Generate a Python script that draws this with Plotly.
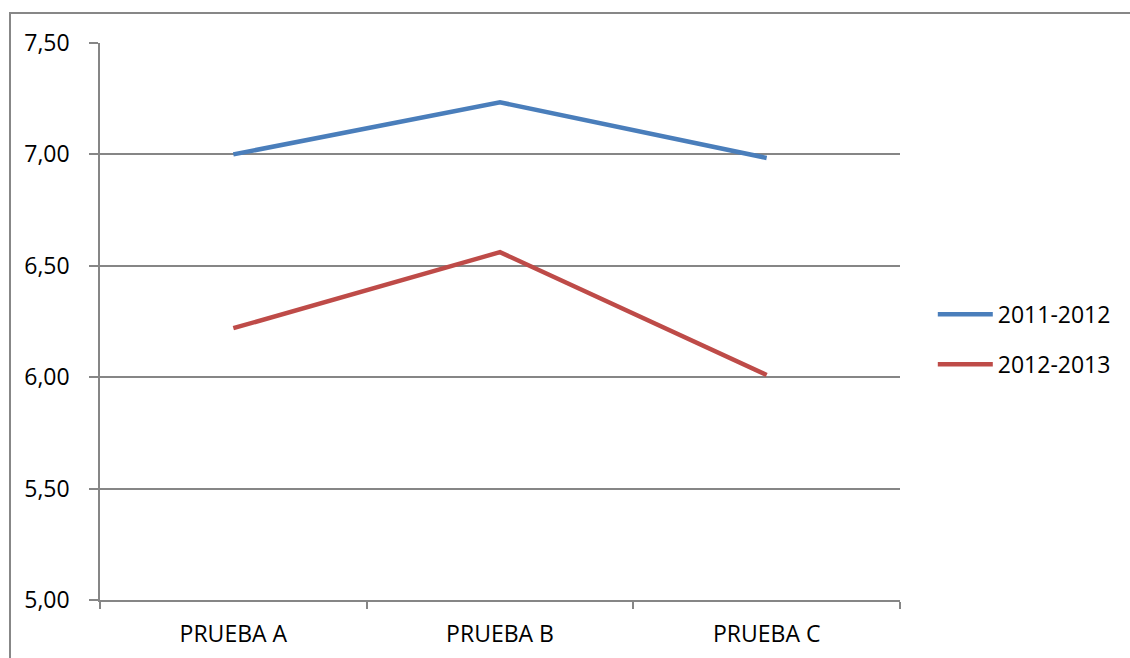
import plotly.graph_objects as go

# Test categories and average scores per school year
categories = ["PRUEBA A", "PRUEBA B", "PRUEBA C"]
series_names = ["2011-2012", "2012-2013"]
scores_2011_2012 = [7.00, 7.234, 6.984]
scores_2012_2013 = [6.22, 6.561, 6.01]
y_ticks = [5.0, 5.5, 6.0, 6.5, 7.0, 7.5]

colors = ["#4A7EBB", "#BE4B48"]
grey = "#868686"
font_family = "Open Sans, Noto Sans, sans-serif"

fig = go.Figure()
for i, (name, values) in enumerate(zip(series_names, [scores_2011_2012, scores_2012_2013])):
    fig.add_trace(go.Scatter(
        x=categories, y=values, name=name, mode="lines",
        line=dict(color=colors[i], width=4.5),
        legendgroup=name,
    ))

fig.update_layout(
    width=1130, height=658,
    margin=dict(l=100, r=230, t=43, b=58, autoexpand=False),
    paper_bgcolor="white", plot_bgcolor="white",
    separators=",.",
    font=dict(family=font_family, size=23, color="black"),
    showlegend=True,
    legend=dict(
        x=1.041, y=0.468, xanchor="left", yanchor="middle",
        font=dict(size=23), itemwidth=55, tracegroupgap=17,
        traceorder="grouped", bgcolor="rgba(0,0,0,0)",
    ),
    xaxis=dict(
        type="category", range=[-0.5, 2.5], automargin=False,
        showline=True, linecolor=grey, linewidth=1.5,
        showgrid=False, zeroline=False,
        ticks="outside", tickson="boundaries", ticklen=7,
        tickcolor=grey, tickwidth=1.5,
        ticklabelstandoff=13,
        tickfont=dict(size=23),
    ),
    yaxis=dict(
        range=[5.0, 7.5], tickvals=y_ticks, tickformat=".2f", automargin=False,
        showline=True, linecolor=grey, linewidth=1.5,
        showgrid=True, gridcolor=grey, gridwidth=1.5,
        zeroline=False,
        ticks="outside", ticklen=9, tickcolor=grey, tickwidth=1.5,
        ticklabelstandoff=15,
        tickfont=dict(size=23),
    ),
    shapes=[dict(
        type="rect", xref="paper", yref="paper",
        x0=-0.1125, x1=1.3, y0=-0.13, y1=1.0539,
        line=dict(color="#878787", width=2), fillcolor="rgba(0,0,0,0)",
        layer="below",
    )],
)

fig.write_html("out.html")
